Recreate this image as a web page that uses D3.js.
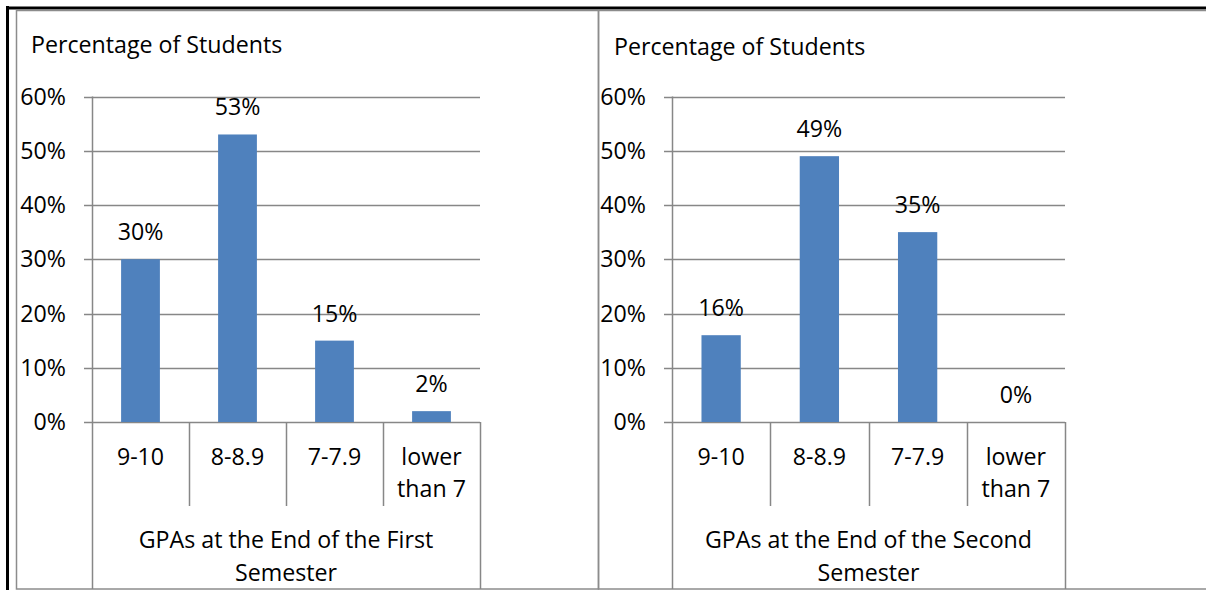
<!DOCTYPE html>
<html><head><meta charset="utf-8">
<script src="https://cdn.jsdelivr.net/npm/d3@7"></script>
<style>
body{margin:0;background:#fff;}
svg text{font-family:"Open Sans",Lato,sans-serif;fill:#000;}
</style></head>
<body>
<svg id="c" width="1206" height="590"></svg>
<script>
const categories = ["9-10", "8-8.9", "7-7.9", "lower than 7"];
const firstSemester = [30, 53, 15, 2];
const secondSemester = [16, 49, 35, 0];
const yTicks = [0, 10, 20, 30, 40, 50, 60];
const yTitle = "Percentage of Students";
const groupTitles = ["GPAs at the End of the First Semester", "GPAs at the End of the Second Semester"];

const svg = d3.select("#c");
const FS = 23.2;
const grid = "#878787";
const barColor = "#4F81BD";

// outer black border
svg.append("line").attr("x1",6).attr("x2",1206).attr("y1",8).attr("y2",8).attr("stroke","#000").attr("stroke-width",3);
svg.append("line").attr("x1",7.5).attr("x2",7.5).attr("y1",6).attr("y2",590).attr("stroke","#000").attr("stroke-width",3);

const panels = [
  {frame:[16,598], plot:[92,480], titleX:31, titleY:53, values:firstSemester, group:groupTitles[0]},
  {frame:[598,1215], plot:[672,1065], titleX:614, titleY:55, values:secondSemester, group:groupTitles[1]}
];

const y = d3.scaleLinear().domain([0,60]).range([422,96.5]);

function wrapLines(s){
  const k = s.lastIndexOf(" ");
  return [s.slice(0, k), s.slice(k+1)];
}

panels.forEach(p=>{
  const g = svg.append("g");
  // frame
  g.append("rect").attr("x",p.frame[0]+0.5).attr("y",10.5).attr("width",p.frame[1]-p.frame[0]).attr("height",578.5)
    .attr("fill","none").attr("stroke","#8c8c8c").attr("stroke-width",1.5);

  const x = d3.scaleBand().domain(categories).range(p.plot).paddingInner(0.6).paddingOuter(0.3);
  const xb = d3.scaleBand().domain(categories).range(p.plot);

  // title
  g.append("text").attr("x",p.titleX).attr("y",p.titleY).attr("font-size",FS).text(yTitle);

  // gridlines
  g.selectAll(".gl").data(yTicks).join("line")
    .attr("x1",p.plot[0]-8).attr("x2",p.plot[1])
    .attr("y1",d=>Math.round(y(d))+0.5).attr("y2",d=>Math.round(y(d))+0.5)
    .attr("stroke",grid).attr("stroke-width",1.5);
  // tick labels
  g.selectAll(".tl").data(yTicks).join("text")
    .attr("x",p.plot[0]-26).attr("y",d=>y(d)+8).attr("text-anchor","end").attr("font-size",FS)
    .text(d=>d+"%");

  // y axis
  g.append("line").attr("x1",p.plot[0]+0.5).attr("x2",p.plot[0]+0.5).attr("y1",y(60)).attr("y2",589)
    .attr("stroke",grid).attr("stroke-width",1.5);
  g.append("line").attr("x1",p.plot[1]+0.5).attr("x2",p.plot[1]+0.5).attr("y1",422).attr("y2",589)
    .attr("stroke",grid).attr("stroke-width",1.5);
  // category dividers
  categories.slice(1).forEach(c=>{
    const xx = Math.round(xb(c))+0.5;
    g.append("line").attr("x1",xx).attr("x2",xx).attr("y1",422).attr("y2",506)
      .attr("stroke",grid).attr("stroke-width",1.5);
  });

  // bars
  g.selectAll(".bar").data(p.values).join("rect")
    .attr("x",(d,i)=>x(categories[i])).attr("width",x.bandwidth())
    .attr("y",d=>y(d)).attr("height",d=>y(0)-y(d)).attr("fill",barColor);

  // data labels
  g.selectAll(".dl").data(p.values).join("text")
    .attr("x",(d,i)=>xb(categories[i])+xb.bandwidth()/2).attr("y",d=>y(d)-19)
    .attr("text-anchor","middle").attr("font-size",FS).text(d=>d+"%");

  // category labels
  categories.forEach(c=>{
    const parts = c==="lower than 7" ? ["lower","than 7"] : [c];
    parts.forEach((t,i)=>{
      g.append("text").attr("x",xb(c)+xb.bandwidth()/2).attr("y",465+i*32)
        .attr("text-anchor","middle").attr("font-size",FS).text(t);
    });
  });

  // group label
  wrapLines(p.group).forEach((t,i)=>{
    g.append("text").attr("x",(p.plot[0]+p.plot[1])/2).attr("y",548+i*33)
      .attr("text-anchor","middle").attr("font-size",FS).text(t);
  });
});
</script>
</body></html>
